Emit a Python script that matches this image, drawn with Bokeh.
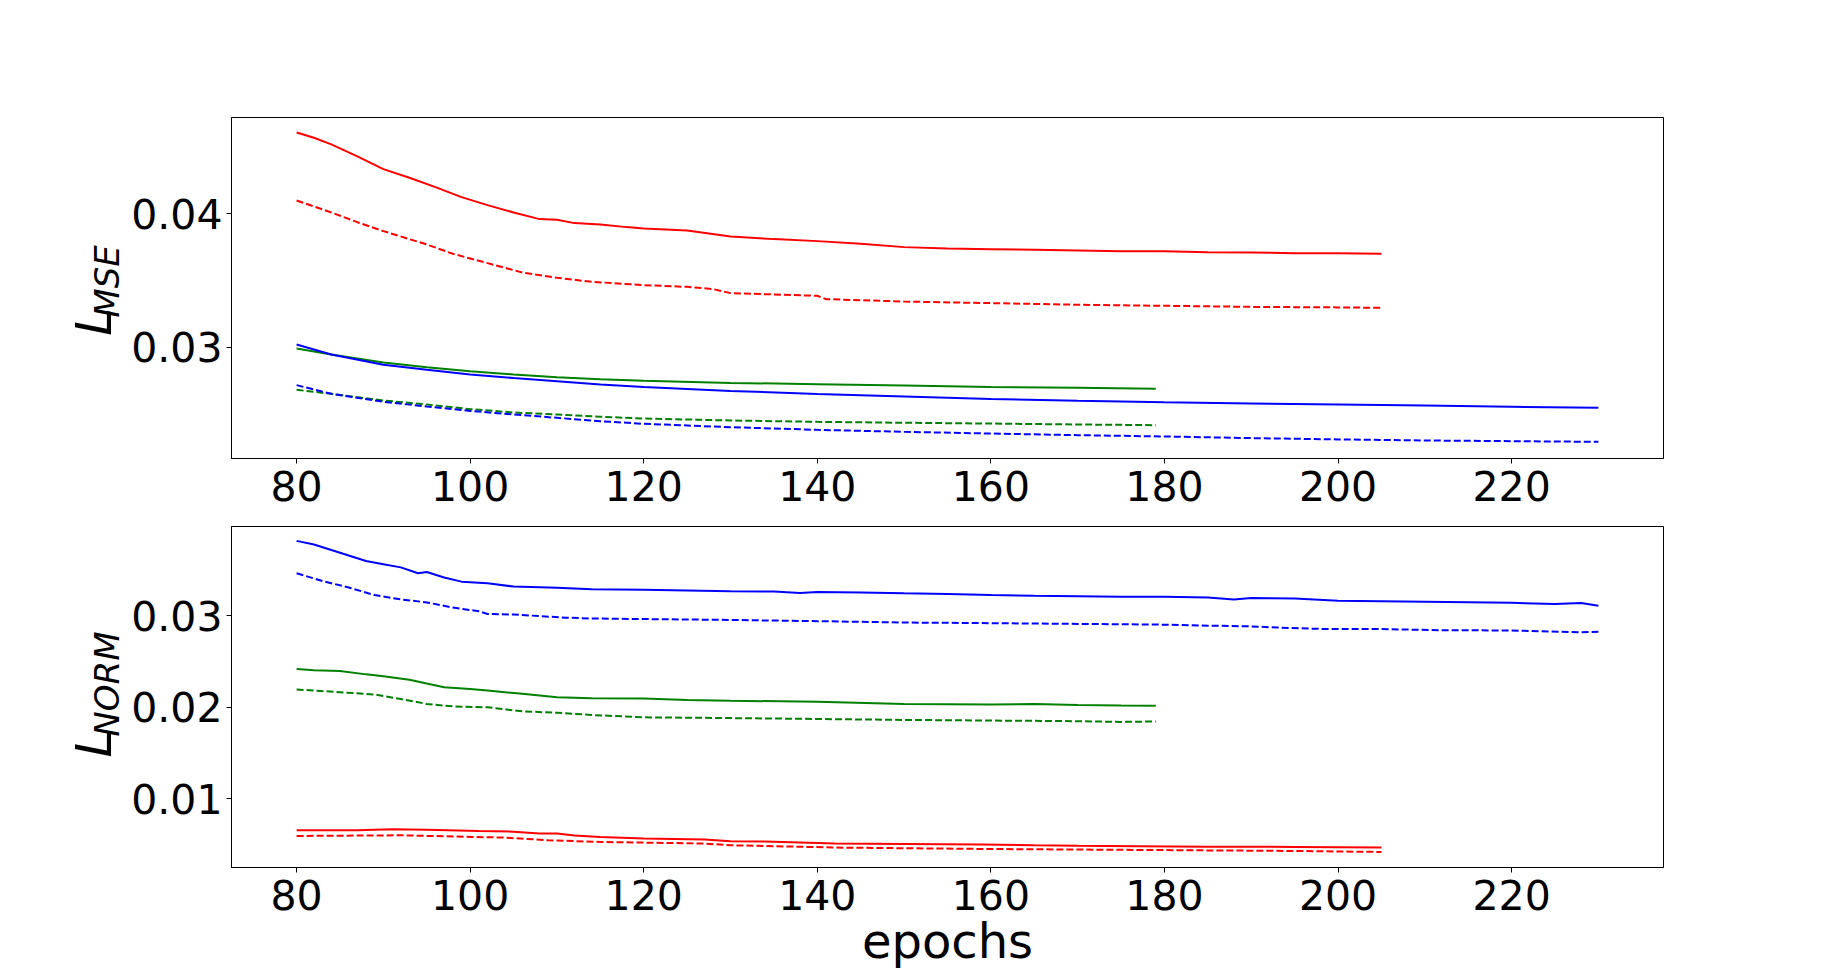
import math
from bokeh.plotting import figure
from bokeh.layouts import column, row
from bokeh.models import Range1d, FixedTicker, PrintfTickFormatter
from bokeh.core.properties import value
from bokeh.embed import file_html
from bokeh.resources import INLINE

# ---------------- data ----------------
epoch_ticks = [80, 100, 120, 140, 160, 180, 200, 220]
mse_ticks = [0.03, 0.04]
norm_ticks = [0.01, 0.02, 0.03]

# top panel (L_MSE)
mse_red_x = [80, 82, 84, 87, 90, 93, 96, 99, 102, 105, 108, 110, 112, 115, 118, 120, 125, 130, 135, 140,
             145, 150, 155, 160, 165, 170, 175, 180, 185, 190, 195, 200, 205]
mse_red = [0.0461, 0.0457, 0.0452, 0.0443, 0.04335, 0.0427, 0.0420, 0.04125, 0.04065, 0.0401, 0.0396,
           0.03955, 0.0393, 0.0392, 0.0390, 0.0389, 0.03875, 0.0383, 0.0381, 0.03795, 0.03775, 0.0375,
           0.0374, 0.03735, 0.0373, 0.03725, 0.0372, 0.0372, 0.03712, 0.0371, 0.03705, 0.03705, 0.0370]
mse_red_d_x = [80, 84, 87, 90, 95, 98, 102, 106, 110, 114, 120, 125, 128, 130, 135, 140, 141, 150, 160,
               170, 180, 190, 200, 205]
mse_red_d = [0.0410, 0.0401, 0.03937, 0.0387, 0.0377, 0.0370, 0.0363, 0.0356, 0.0352, 0.0349, 0.03465,
             0.03452, 0.03435, 0.03405, 0.03395, 0.03385, 0.0336, 0.03342, 0.0333, 0.03318, 0.0331,
             0.03302, 0.03298, 0.03295]
mse_blue_x = [80, 84, 90, 95, 100, 105, 110, 115, 120, 130, 140, 150, 160, 170, 180, 190, 200, 210, 220, 230]
mse_blue = [0.0302, 0.02945, 0.02868, 0.0283, 0.02795, 0.02768, 0.02745, 0.0272, 0.02702, 0.02672,
            0.02648, 0.0263, 0.02612, 0.02598, 0.02587, 0.02578, 0.0257, 0.02562, 0.02553, 0.02545]
mse_blue_d = [0.02715, 0.0265, 0.0259, 0.02555, 0.02522, 0.02495, 0.0247, 0.02445, 0.02425, 0.024,
              0.0238, 0.02365, 0.02352, 0.0234, 0.0233, 0.02318, 0.02308, 0.023, 0.02295, 0.0229]
mse_green_x = [80, 84, 90, 95, 100, 105, 110, 115, 120, 130, 140, 150, 160, 170, 179]
mse_green = [0.0299, 0.02945, 0.02885, 0.0285, 0.0282, 0.02795, 0.02775, 0.0276, 0.02748, 0.02732,
             0.02722, 0.02712, 0.02702, 0.02695, 0.02688]
mse_green_d = [0.0268, 0.0265, 0.026, 0.0257, 0.02535, 0.0251, 0.02495, 0.02478, 0.02465, 0.0245,
               0.0244, 0.02433, 0.02427, 0.0242, 0.02415]

# bottom panel (L_NORM)
norm_blue_x = [80, 82, 85, 88, 90, 92, 94, 95, 97, 99, 102, 105, 110, 114, 120, 125, 130, 135, 138, 140,
               145, 150, 155, 160, 165, 170, 175, 180, 185, 188, 190, 195, 200, 205, 210, 215, 220, 225,
               228, 230]
norm_blue = [0.0382, 0.0378, 0.0369, 0.0360, 0.03565, 0.0353, 0.03466, 0.0348, 0.0342, 0.03374, 0.03356,
             0.0332, 0.03308, 0.0329, 0.03285, 0.03278, 0.0327, 0.03265, 0.0325, 0.03262, 0.03255,
             0.03246, 0.0324, 0.03228, 0.0322, 0.03215, 0.0321, 0.03209, 0.032, 0.0318, 0.03195, 0.0319,
             0.03165, 0.0316, 0.03155, 0.0315, 0.03142, 0.0313, 0.0314, 0.0311]
norm_blue_d_x = [80, 83, 86, 89, 92, 95, 98, 101, 102, 105, 108, 111, 114, 120, 130, 140, 150, 160, 170,
                 179, 185, 190, 193, 198, 205, 212, 220, 228, 230]
norm_blue_d = [0.03466, 0.0338, 0.0331, 0.03227, 0.0318, 0.03147, 0.0309, 0.0305, 0.0302, 0.03015,
               0.02997, 0.0298, 0.02971, 0.02965, 0.02955, 0.02942, 0.02927, 0.0292, 0.02912, 0.02905,
               0.02893, 0.02885, 0.02872, 0.02857, 0.02855, 0.02843, 0.0284, 0.0282, 0.02825]
norm_green_x = [80, 82, 85, 88, 90, 93, 95, 97, 100, 102, 106, 110, 114, 120, 125, 130, 140, 150, 160,
                165, 170, 175, 179]
norm_green = [0.02418, 0.02405, 0.02396, 0.0236, 0.0234, 0.02301, 0.0226, 0.0222, 0.022, 0.02184,
              0.02147, 0.0211, 0.02099, 0.02095, 0.0208, 0.02072, 0.0206, 0.02037, 0.0203, 0.02035,
              0.02025, 0.0202, 0.02018]
norm_green_d_x = [80, 85, 89, 92, 95, 98, 102, 106, 110, 114, 120, 130, 140, 150, 160, 170, 175, 179]
norm_green_d = [0.02195, 0.02165, 0.0214, 0.0209, 0.02037, 0.0201, 0.02, 0.01956, 0.0194, 0.01916,
                0.0189, 0.01882, 0.01872, 0.01862, 0.01855, 0.01848, 0.0184, 0.01845]
norm_red_x = [80, 87, 91, 95, 101, 105, 108, 110, 112, 115, 120, 127, 130, 135, 139, 142, 150, 159, 165,
              170, 177, 185, 195, 200, 205]
norm_red = [0.00654, 0.00654, 0.00666, 0.0066, 0.00647, 0.0064, 0.00619, 0.0062, 0.00597, 0.00582,
            0.00564, 0.00553, 0.00535, 0.0053, 0.0052, 0.0051, 0.00505, 0.00499, 0.0049, 0.00485,
            0.0048, 0.00476, 0.00473, 0.0047, 0.00466]
norm_red_d_x = [80, 92, 104, 109, 115, 120, 127, 130, 139, 142, 159, 177, 195, 205]
norm_red_d = [0.00593, 0.006, 0.00575, 0.00546, 0.00527, 0.0052, 0.0051, 0.00491, 0.00473, 0.00466,
              0.00451, 0.0044, 0.00429, 0.00418]

FONT = "DejaVu Sans"
DASH = "7 3"
LAB_W = 127


def make_fig(yr, yticks, top, bottom):
    p = figure(width=1832 - LAB_W, frame_width=1432, frame_height=341,
               x_range=Range1d(72.5, 237.5), y_range=Range1d(*yr),
               output_backend="svg", toolbar_location=None,
               min_border_left=231 - LAB_W, min_border_right=169,
               min_border_top=top, min_border_bottom=bottom)
    p.xgrid.visible = False
    p.ygrid.visible = False
    p.outline_line_color = "black"
    p.outline_line_alpha = 1
    p.outline_line_width = 1
    p.background_fill_color = "white"
    p.border_fill_color = "white"
    for ax in (p.xaxis[0], p.yaxis[0]):
        ax.major_tick_in = 0
        ax.major_tick_out = 5
        ax.minor_tick_out = 0
        ax.minor_tick_in = 0
        ax.major_tick_line_color = "black"
        ax.axis_line_color = "black"
        ax.major_label_text_font = FONT
        ax.major_label_text_font_size = "41px"
        ax.major_label_text_color = "black"
    p.xaxis[0].ticker = FixedTicker(ticks=epoch_ticks)
    p.xaxis[0].major_label_standoff = 7
    p.yaxis[0].ticker = FixedTicker(ticks=yticks)
    p.yaxis[0].formatter = PrintfTickFormatter(format="%.2f")
    p.yaxis[0].major_label_standoff = 4
    return p


def make_label_fig(h, sub, ybase):
    # narrow companion figure holding the rotated y label  L_sub
    q = figure(width=LAB_W, height=h, x_range=Range1d(0, LAB_W), y_range=Range1d(0, h),
               x_axis_type=None, y_axis_type=None, output_backend="svg", toolbar_location=None,
               min_border=0, min_border_left=0, min_border_right=0, min_border_top=0,
               min_border_bottom=0)
    q.xgrid.visible = False
    q.ygrid.visible = False
    q.outline_line_color = None
    q.background_fill_color = "white"
    q.border_fill_color = "white"
    q.text(x=[93], y=[ybase], text=["L"], angle=math.pi / 2, text_font=value(FONT),
           text_font_style="italic", text_font_size="50px", text_align="left",
           text_baseline="alphabetic", text_color="black")
    q.text(x=[106], y=[ybase + 28], text=[sub], angle=math.pi / 2, text_font=value(FONT),
           text_font_style="italic", text_font_size="34px", text_align="left",
           text_baseline="alphabetic", text_color="black")
    return q


p1 = make_fig((0.02165, 0.04722), mse_ticks, 117, 68)
p1.line(mse_red_x, mse_red, line_color="red", line_width=2)
p1.line(mse_red_d_x, mse_red_d, line_color="red", line_width=2, line_dash=DASH)
p1.line(mse_green_x, mse_green, line_color="green", line_width=2)
p1.line(mse_green_x, mse_green_d, line_color="green", line_width=2, line_dash=DASH)
p1.line(mse_blue_x, mse_blue, line_color="blue", line_width=2)
p1.line(mse_blue_x, mse_blue_d, line_color="blue", line_width=2, line_dash=DASH)
l1 = make_label_fig(526, "MSE", 526 - 336.7)

p2 = make_fig((0.00248, 0.03977), norm_ticks, 0, 100)
p2.line(norm_blue_x, norm_blue, line_color="blue", line_width=2)
p2.line(norm_blue_d_x, norm_blue_d, line_color="blue", line_width=2, line_dash=DASH)
p2.line(norm_green_x, norm_green, line_color="green", line_width=2)
p2.line(norm_green_d_x, norm_green_d, line_color="green", line_width=2, line_dash=DASH)
p2.line(norm_red_x, norm_red, line_color="red", line_width=2)
p2.line(norm_red_d_x, norm_red_d, line_color="red", line_width=2, line_dash=DASH)
p2.xaxis[0].axis_label = "epochs"
p2.xaxis[0].axis_label_text_font = FONT
p2.xaxis[0].axis_label_text_font_size = "48px"
p2.xaxis[0].axis_label_text_font_style = "normal"
p2.xaxis[0].axis_label_text_color = "black"
p2.xaxis[0].axis_label_standoff = 0
l2 = make_label_fig(400, "NORM", 88)

layout = column(row(l1, p1, spacing=0), row(l2, p2, spacing=0), spacing=0)
open("out.html", "w").write(file_html(layout, INLINE))
